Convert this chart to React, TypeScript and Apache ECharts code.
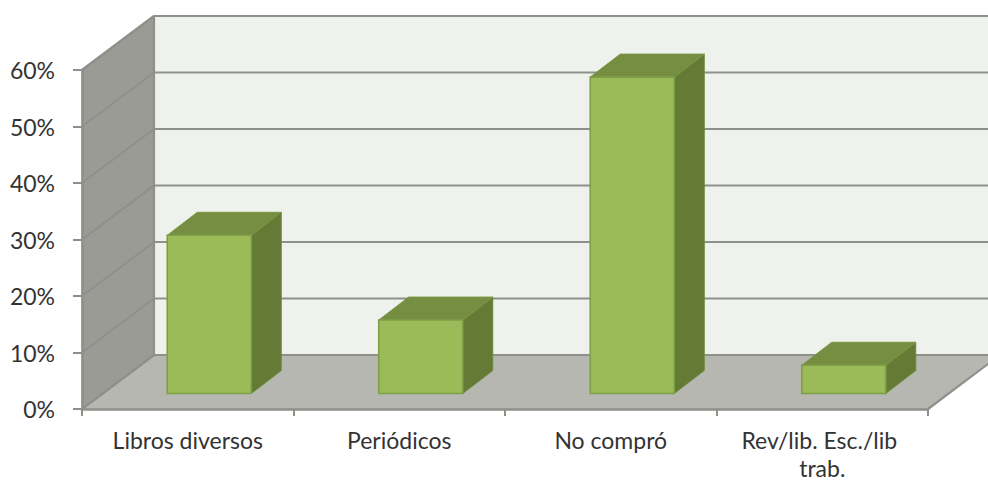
import React, { useEffect, useRef } from "react";
import * as echarts from "echarts";

const categories = ["Libros diversos", "Periódicos", "No compró", "Rev/lib. Esc./lib trab."];
const values = [28, 13, 56, 5];
const yTicks = [0, 10, 20, 30, 40, 50, 60];

const WALL_DX = 72;
const WALL_DY = -54;
const BAR_OFF_DX = 21.5;
const BAR_OFF_DY = -15.5;
const BAR_DX = 30;
const BAR_DY = -23;
const BAR_W = 84;
const LINE = "#8e908b";

const poly = (points: number[][], fill: string, stroke?: string, lineWidth = 1) => ({
  type: "polygon",
  shape: { points },
  style: { fill, stroke: stroke ?? fill, lineWidth },
});
const seg = (a: number[], b: number[], stroke = LINE, lineWidth = 2.2) => ({
  type: "line",
  shape: { x1: a[0], y1: a[1], x2: b[0], y2: b[1] },
  style: { stroke, lineWidth },
});

export default function App() {
  const ref = useRef<HTMLDivElement>(null);
  useEffect(() => {
    const chart = echarts.init(ref.current!, null, { renderer: "svg" });
    chart.setOption({
      animation: false,
      backgroundColor: "#ffffff",
      textStyle: { fontFamily: "Lato" },
      grid: { left: 82, right: 60, top: 70, bottom: 75, containLabel: false, outerBoundsMode: "none" },
      xAxis: {
        type: "category",
        data: categories,
        z: 5,
        axisLine: { lineStyle: { color: LINE, width: 2.5 } },
        axisTick: { show: true, alignWithLabel: false, length: 7, lineStyle: { color: LINE, width: 2 } },
        axisLabel: {
          color: "#333333",
          fontFamily: "Lato",
          fontSize: 23,
          margin: 17,
          lineHeight: 28,
          width: 195,
          overflow: "break",
          interval: 0,
        },
        splitLine: { show: false },
      },
      yAxis: {
        type: "value",
        min: 0,
        max: 60,
        interval: 10,
        z: 5,
        axisLine: { show: true, lineStyle: { color: LINE, width: 2.5 } },
        axisTick: { show: true, length: 9, lineStyle: { color: LINE, width: 2 } },
        axisLabel: {
          color: "#333333",
          fontFamily: "Lato",
          fontSize: 23,
          margin: 27,
          padding: [0, 0, 3, 0],
          formatter: "{value}%",
        },
        splitLine: { show: false },
      },
      series: [
        {
          type: "custom",
          z: 1,
          silent: true,
          data: [[0, 0]],
          renderItem: (params: any) => {
            const c = params.coordSys;
            const l = c.x, r = c.x + c.width, t = c.y, b = c.y + c.height;
            const bl = l + WALL_DX, br = r + WALL_DX;
            return {
              type: "group",
              children: [
                poly([[bl, t + WALL_DY], [br, t + WALL_DY], [br, b + WALL_DY], [bl, b + WALL_DY]], "#eff2ec"),
                poly([[l, t], [bl, t + WALL_DY], [bl, b + WALL_DY], [l, b]], "#999b94"),
                poly([[l, b], [bl, b + WALL_DY], [br, b + WALL_DY], [r, b]], "#b5b7b0"),
                seg([l, t], [bl, t + WALL_DY]),
                seg([bl, t + WALL_DY], [bl, b + WALL_DY]),
                seg([r, b], [br, b + WALL_DY]),
                seg([l, b], [bl, b + WALL_DY]),
              ],
            };
          },
        },
        {
          type: "custom",
          z: 2,
          silent: true,
          data: yTicks.map((t) => [0, t]),
          renderItem: (params: any, api: any) => {
            const c = params.coordSys;
            const y = api.coord([0, api.value(1)])[1];
            const l = c.x, bl = l + WALL_DX, br = c.x + c.width + WALL_DX;
            return {
              type: "group",
              children: [
                seg([l, y], [bl, y + WALL_DY], "#8e908b", 1.8),
                seg([bl, y + WALL_DY], [br, y + WALL_DY], "#8e908b", 2.2),
              ],
            };
          },
        },
        {
          type: "custom",
          z: 3,
          silent: true,
          data: values.map((v, i) => [i, v]),
          encode: { x: 0, y: 1 },
          renderItem: (_: any, api: any) => {
            const top = api.coord([api.value(0), api.value(1)]);
            const base = api.coord([api.value(0), 0]);
            const x0 = top[0] + BAR_OFF_DX - BAR_W / 2;
            const x1 = x0 + BAR_W;
            const yT = top[1] + BAR_OFF_DY;
            const yB = base[1] + BAR_OFF_DY;
            return {
              type: "group",
              children: [
                poly([[x1, yT], [x1 + BAR_DX, yT + BAR_DY], [x1 + BAR_DX, yB + BAR_DY], [x1, yB]], "#647a35", "#6e8a3c"),
                poly([[x0, yT], [x0 + BAR_DX, yT + BAR_DY], [x1 + BAR_DX, yT + BAR_DY], [x1, yT]], "#758e41", "#7a9744"),
                poly([[x0, yT], [x1, yT], [x1, yB], [x0, yB]], "#9bbb59", "#7e9f45", 1.6),
              ],
            };
          },
        },
      ],
    });
    return () => chart.dispose();
  }, []);
  return <div ref={ref} style={{ position: "absolute", left: 0, top: 0, width: 988, height: 484 }} />;
}
